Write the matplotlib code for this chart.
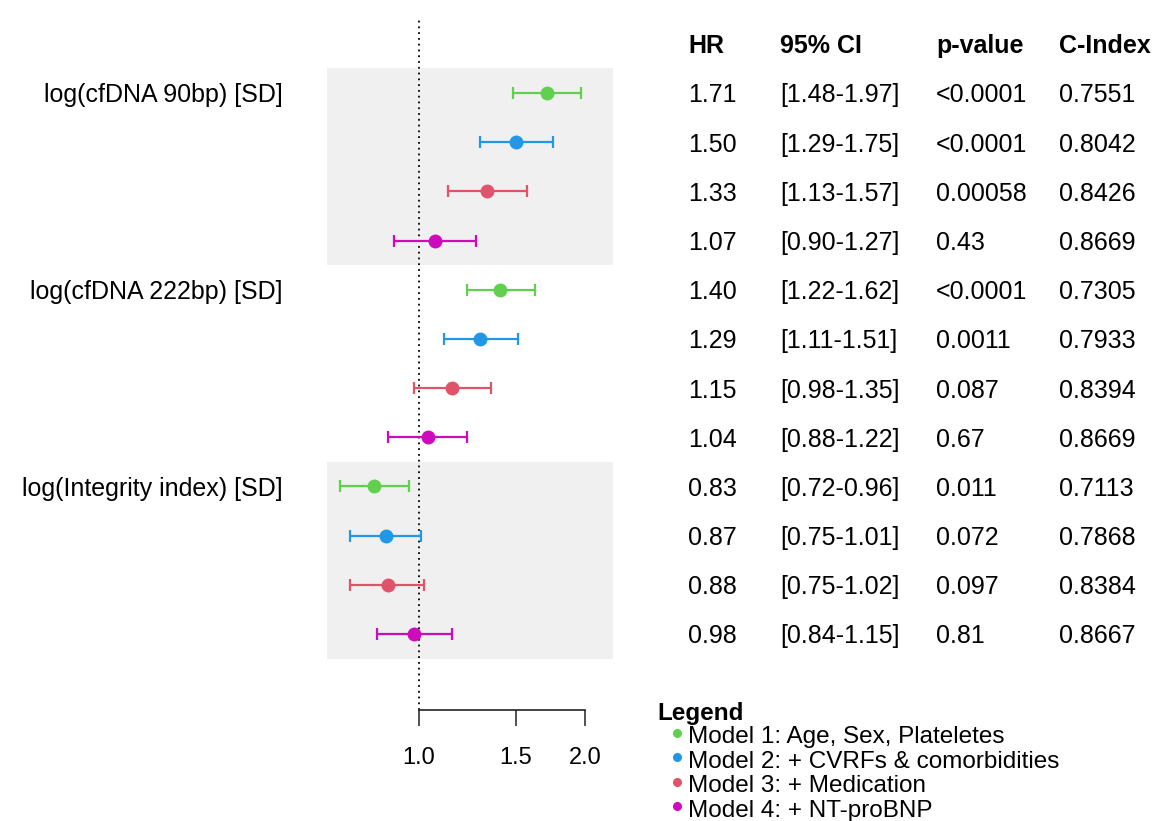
import matplotlib
matplotlib.use("Agg")
import matplotlib.pyplot as plt
from matplotlib.lines import Line2D
from matplotlib.transforms import blended_transform_factory
import numpy as np

plt.rcParams['font.family'] = ['Liberation Sans', 'DejaVu Sans']

# ---- data ----
groups = ["log(cfDNA 90bp) [SD]", "log(cfDNA 222bp) [SD]", "log(Integrity index) [SD]"]
models = ["Model 1: Age, Sex, Plateletes", "Model 2: + CVRFs & comorbidities",
          "Model 3: + Medication", "Model 4: + NT-proBNP"]
colors = ["#61D04F", "#2297E6", "#DF536B", "#CD0BBC"]
hr = [1.71, 1.50, 1.33, 1.07, 1.40, 1.29, 1.15, 1.04, 0.83, 0.87, 0.88, 0.98]
ci_lo = [1.48, 1.29, 1.13, 0.90, 1.22, 1.11, 0.98, 0.88, 0.72, 0.75, 0.75, 0.84]
ci_hi = [1.97, 1.75, 1.57, 1.27, 1.62, 1.51, 1.35, 1.22, 0.96, 1.01, 1.02, 1.15]
pvals = ["<0.0001", "<0.0001", "0.00058", "0.43", "<0.0001", "0.0011", "0.087", "0.67",
         "0.011", "0.072", "0.097", "0.81"]
cindex = ["0.7551", "0.8042", "0.8426", "0.8669", "0.7305", "0.7933", "0.8394", "0.8669",
          "0.7113", "0.7868", "0.8384", "0.8667"]
headers = ["HR", "95% CI", "p-value", "C-Index"]
xticks = [1.0, 1.5, 2.0]

W, H = 1156, 821
fig = plt.figure(figsize=(W / 100, H / 100), dpi=100)

def fx(px):
    return px / W

def fy(py):
    return 1 - py / H

FS = 18

ax = fig.add_axes([fx(327), fy(710), fx(613) - fx(327), fy(18) - fy(710)])
ax.set_xscale('log')
ax.set_xlim(0.681, 2.248)
ax.set_ylim(13.546, -0.525)

rows = np.arange(1, len(hr) + 1)
ax.axhspan(0.5, 4.5, color="#F0F0F0", zorder=0, lw=0)
ax.axhspan(8.5, 12.5, color="#F0F0F0", zorder=0, lw=0)
ax.axvline(1.0, color="black", linestyle=(0, (1, 2.2)), lw=1.3, zorder=1)

for i, (h, lo, hi) in enumerate(zip(hr, ci_lo, ci_hi)):
    col = colors[i % 4]
    ax.errorbar([h], [rows[i]], xerr=[[h - lo], [hi - h]], fmt='o', color=col,
                ms=9, elinewidth=1.6, capsize=4, capthick=1.6, zorder=3)

for s in ["top", "left", "right"]:
    ax.spines[s].set_visible(False)
ax.spines["bottom"].set_bounds(1.0, 2.0)
ax.spines["bottom"].set_linewidth(1.2)
ax.spines["bottom"].set_color("#222222")
ax.set_yticks([])
ax.xaxis.set_minor_locator(matplotlib.ticker.NullLocator())
ax.set_xticks(xticks)
ax.set_xticklabels([f"{t:.1f}" for t in xticks])
ax.tick_params(axis='x', length=11.5, width=1.2, labelsize=17, pad=15, color="#333333")

# group labels
tr = blended_transform_factory(fig.transFigure, ax.transData)
for g, name in enumerate(groups):
    fig.text(fx(283), 1 + 4 * g, name, transform=tr, ha='right', va='center_baseline',
             fontsize=FS)

# table
col_x = [688, 780, 936, 1059]
for cx, hd in zip(col_x, headers):
    fig.text(fx(cx), 0, hd, transform=tr, ha='left', va='center_baseline',
             fontsize=FS, fontweight='bold')
for i in range(len(hr)):
    vals = [f"{hr[i]:.2f}", f"[{ci_lo[i]:.2f}-{ci_hi[i]:.2f}]", pvals[i], cindex[i]]
    for cx, v in zip(col_x, vals):
        fig.text(fx(cx), rows[i], v, transform=tr, ha='left', va='center_baseline',
                 fontsize=FS)

# legend (manual layout)
LFS = 17.5
fig.text(fx(657), fy(711), "Legend", ha='left', va='center_baseline',
         fontsize=LFS, fontweight='bold')
for k, (lab, col) in enumerate(zip(models, colors)):
    yy = 735 + 24.4 * k
    fig.add_artist(Line2D([fx(677)], [fy(yy - 2)], transform=fig.transFigure,
                          marker='o', ls='none', color=col, ms=5.5))
    fig.text(fx(688), fy(yy), lab, ha='left', va='center_baseline', fontsize=LFS)

fig.savefig("out.png", dpi=100)
